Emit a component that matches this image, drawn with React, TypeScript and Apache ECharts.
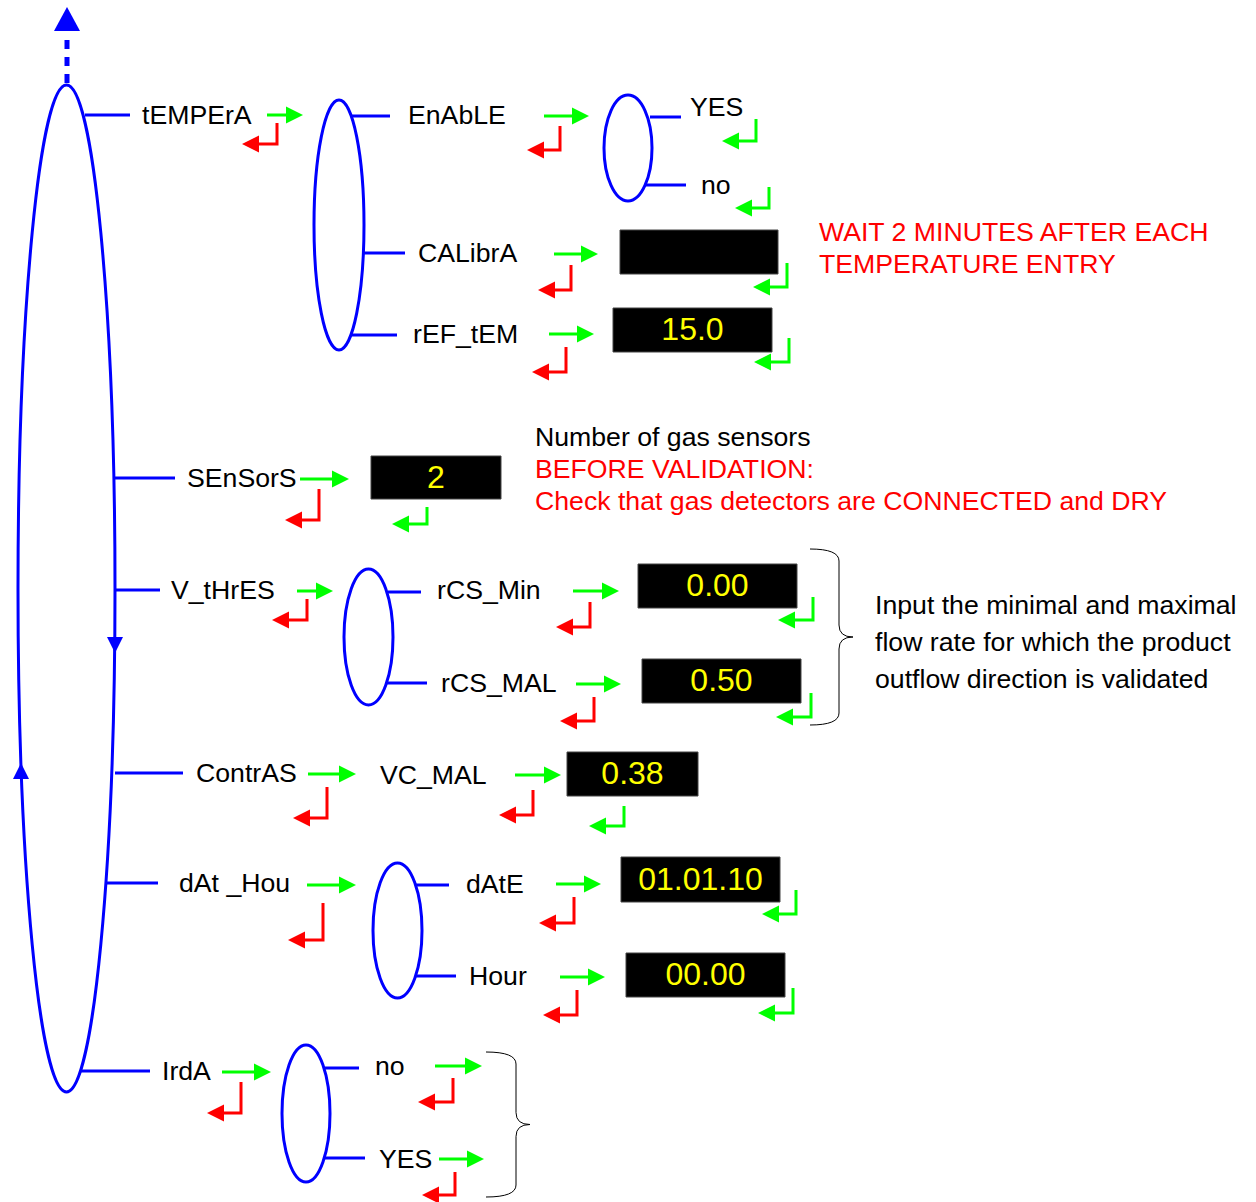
import React, { useEffect, useRef } from "react";
import * as echarts from "echarts";

// ---- content (texts & displayed values) ----
const mainMenu = ["tEMPErA", "SEnSorS", "V_tHrES", "ContrAS", "dAt _Hou", "IrdA"];
const tempMenu = ["EnAbLE", "CALibrA", "rEF_tEM"];
const enableOptions = ["YES", "no"];
const thresMenu = ["rCS_Min", "rCS_MAL"];
const contrMenu = ["VC_MAL"];
const dateMenu = ["dAtE", "Hour"];
const irdaOptions = ["no", "YES"];
const displayValues = ["", "15.0", "2", "0.00", "0.50", "0.38", "01.01.10", "00.00"];
const tempNote = ["WAIT 2 MINUTES AFTER EACH", "TEMPERATURE ENTRY"];
const sensorNote = ["Number of gas sensors", "BEFORE VALIDATION:", "Check that gas detectors are CONNECTED and DRY"];
const thresNote = ["Input the minimal and maximal", "flow rate for which the product", "outflow direction is validated"];

const BLUE = "#0000ff";
const GREEN = "#00ff00";
const RED = "#ff0000";
const FONT = '26.67px "Liberation Sans", Arial, sans-serif';
const BOXFONT = '32px "Liberation Sans", Arial, sans-serif';

function txt(text: string, x: number, y: number, fill = "#000", font = FONT, align = "left") {
  return {
    type: "text",
    silent: true,
    style: { text, x, y, fill, font, align, verticalAlign: "middle", textAlign: align, textVerticalAlign: "middle" },
  };
}
function line(x1: number, y1: number, x2: number, y2: number, stroke = BLUE, lineWidth = 3) {
  return { type: "line", shape: { x1, y1, x2, y2 }, style: { stroke, lineWidth } };
}
function ellipse(cx: number, cy: number, rx: number, ry: number) {
  return { type: "ellipse", shape: { cx, cy, rx, ry }, style: { stroke: BLUE, fill: "none", lineWidth: 3 } };
}
function rightArrow(x1: number, x2: number, y: number) {
  return [
    line(x1, y, x2 - 12, y, GREEN, 3),
    { type: "polygon", shape: { points: [[x2 - 17, y - 8.5], [x2, y], [x2 - 17, y + 8.5]] }, style: { fill: GREEN } },
  ];
}
function returnArrow(xv: number, yTop: number, yBot: number, xTip: number, color: string) {
  return [
    { type: "polyline", shape: { points: [[xv, yTop], [xv, yBot], [xTip + 12, yBot]] }, style: { stroke: color, lineWidth: 3, fill: null } },
    { type: "polygon", shape: { points: [[xTip + 17, yBot - 8.5], [xTip, yBot], [xTip + 17, yBot + 8.5]] }, style: { fill: color } },
  ];
}
function box(x: number, y: number, w: number, h: number, value: string) {
  return [
    { type: "rect", shape: { x, y, width: w, height: h }, style: { fill: "#000", stroke: "#444", lineWidth: 1 } },
    txt(value, x + w / 2, y + h / 2 - 1, "#ffff00", BOXFONT, "center"),
  ];
}
function brace(x0: number, yTop: number, xv: number, xp: number, yBot: number) {
  const ym = (yTop + yBot) / 2;
  const st = { stroke: "#000", lineWidth: 1, fill: null };
  return [
    { type: "bezierCurve", shape: { x1: x0, y1: yTop, x2: xv, y2: yTop + 12, cpx1: xv, cpy1: yTop }, style: st },
    line(xv, yTop + 12, xv, ym - 12, "#000", 1),
    { type: "bezierCurve", shape: { x1: xv, y1: ym - 12, x2: xp, y2: ym, cpx1: xv, cpy1: ym }, style: st },
    { type: "bezierCurve", shape: { x1: xp, y1: ym, x2: xv, y2: ym + 12, cpx1: xv, cpy1: ym }, style: st },
    line(xv, ym + 12, xv, yBot - 12, "#000", 1),
    { type: "bezierCurve", shape: { x1: xv, y1: yBot - 12, x2: x0, y2: yBot, cpx1: xv, cpy1: yBot }, style: st },
  ];
}

function buildElements() {
  const els: any[] = [];
  // main loop
  els.push(ellipse(66.5, 588.5, 48.5, 503.5));
  els.push({ type: "line", shape: { x1: 67, y1: 83, x2: 67, y2: 32 }, style: { stroke: BLUE, lineWidth: 5, lineDash: [9, 8] } });
  els.push({ type: "polygon", shape: { points: [[54, 31], [67, 7], [80, 31]] }, style: { fill: BLUE } });
  els.push({ type: "polygon", shape: { points: [[107, 637], [123, 637], [115, 653]] }, style: { fill: BLUE } });
  els.push({ type: "polygon", shape: { points: [[13, 779], [29, 779], [21, 763]] }, style: { fill: BLUE } });

  // main menu branches
  const mainLines = [[85, 130, 115], [115, 175, 478], [115, 160, 590], [115, 183, 773], [106, 158, 883], [81, 150, 1071]];
  const mainTextX = [142, 187, 171, 196, 179, 162];
  mainMenu.forEach((m, i) => {
    const [a, b, y] = mainLines[i];
    els.push(line(a, y, b, y));
    els.push(txt(m, mainTextX[i], y));
  });

  // tEMPErA submenu
  els.push(...rightArrow(267, 303, 115));
  els.push(...returnArrow(277, 123, 144, 242, RED));
  els.push(ellipse(339, 225, 25, 125));
  els.push(line(352, 116, 390, 116), line(364, 253, 405, 253), line(352, 335, 397, 335));
  els.push(txt(tempMenu[0], 408, 115), txt(tempMenu[1], 418, 253), txt(tempMenu[2], 413, 334));
  els.push(...rightArrow(544, 589, 116), ...returnArrow(560, 126, 150, 527, RED));
  els.push(...rightArrow(554, 598, 254), ...returnArrow(571, 265, 290, 538, RED));
  els.push(...rightArrow(549, 594, 334), ...returnArrow(566, 347, 372, 532, RED));
  els.push(ellipse(628, 148, 24, 53));
  els.push(line(650, 117, 681, 117), line(645, 185, 686, 185));
  els.push(txt(enableOptions[0], 690, 107), txt(enableOptions[1], 701, 185));
  els.push(...returnArrow(756, 119, 141, 722, GREEN), ...returnArrow(769, 187, 208, 735, GREEN));
  els.push(...box(620, 230, 158, 44, displayValues[0]), ...returnArrow(787, 263, 287, 753, GREEN));
  els.push(...box(613, 308, 159, 44, displayValues[1]), ...returnArrow(789, 338, 362, 754, GREEN));
  els.push(txt(tempNote[0], 819, 232, RED), txt(tempNote[1], 819, 264, RED));

  // SEnSorS
  els.push(...rightArrow(300, 349, 479), ...returnArrow(319, 489, 520, 285, RED));
  els.push(...box(371, 456, 130, 43, displayValues[2]), ...returnArrow(427, 507, 524, 392, GREEN));
  els.push(txt(sensorNote[0], 535, 437), txt(sensorNote[1], 535, 469, RED), txt(sensorNote[2], 535, 501, RED));

  // V_tHrES
  els.push(...rightArrow(297, 333, 591), ...returnArrow(307, 599, 620, 272, RED));
  els.push(ellipse(368.5, 637, 24.5, 68));
  els.push(line(388, 592, 421, 592), line(387, 683, 427, 683));
  els.push(txt(thresMenu[0], 437, 590), txt(thresMenu[1], 441, 683));
  els.push(...rightArrow(573, 619, 591), ...returnArrow(590, 602, 627, 556, RED));
  els.push(...rightArrow(576, 621, 684), ...returnArrow(594, 697, 721, 560, RED));
  els.push(...box(638, 564, 159, 44, displayValues[3]), ...returnArrow(813, 597, 620, 778, GREEN));
  els.push(...box(642, 659, 159, 44, displayValues[4]), ...returnArrow(811, 693, 717, 776, GREEN));
  els.push(...brace(810, 549, 839, 853, 725));
  els.push(txt(thresNote[0], 875, 605), txt(thresNote[1], 875, 642), txt(thresNote[2], 875, 679));

  // ContrAS
  els.push(...rightArrow(308, 356, 774), ...returnArrow(327, 787, 818, 293, RED));
  els.push(txt(contrMenu[0], 380, 775));
  els.push(...rightArrow(515, 561, 775), ...returnArrow(533, 790, 815, 499, RED));
  els.push(...box(567, 752, 131, 44, displayValues[5]), ...returnArrow(624, 806, 826, 589, GREEN));

  // dAt _Hou
  els.push(...rightArrow(307, 356, 885), ...returnArrow(323, 903, 940, 288, RED));
  els.push(ellipse(397.5, 930.5, 24.5, 67.5));
  els.push(line(415, 885, 449, 885), line(416, 976, 456, 976));
  els.push(txt(dateMenu[0], 466, 884), txt(dateMenu[1], 469, 976));
  els.push(...rightArrow(556, 601, 884), ...returnArrow(574, 897, 923, 539, RED));
  els.push(...rightArrow(560, 605, 977), ...returnArrow(577, 990, 1015, 543, RED));
  els.push(...box(621, 857, 159, 45, displayValues[6]), ...returnArrow(796, 890, 914, 762, GREEN));
  els.push(...box(626, 953, 159, 44, displayValues[7]), ...returnArrow(793, 988, 1013, 758, GREEN));

  // IrdA
  els.push(...rightArrow(222, 271, 1072), ...returnArrow(241, 1082, 1113, 207, RED));
  els.push(ellipse(306, 1113.5, 24, 68.5));
  els.push(line(325, 1068, 359, 1068), line(325, 1158, 365, 1158));
  els.push(txt(irdaOptions[0], 375, 1066), txt(irdaOptions[1], 379, 1159));
  els.push(...rightArrow(435, 482, 1066), ...returnArrow(453, 1078, 1102, 418, RED));
  els.push(...rightArrow(439, 484, 1159), ...returnArrow(455, 1172, 1195, 422, RED));
  els.push(...brace(486, 1052, 516, 530, 1197));
  return els;
}

export default function App() {
  const ref = useRef<HTMLDivElement>(null);
  useEffect(() => {
    if (!ref.current) return;
    const chart = echarts.init(ref.current, null, { renderer: "svg" });
    chart.setOption({
      animation: false,
      backgroundColor: "#ffffff",
      graphic: { elements: buildElements() },
    });
    return () => chart.dispose();
  }, []);
  return <div ref={ref} style={{ position: "absolute", left: 0, top: 0, width: 1256, height: 1202 }} />;
}
